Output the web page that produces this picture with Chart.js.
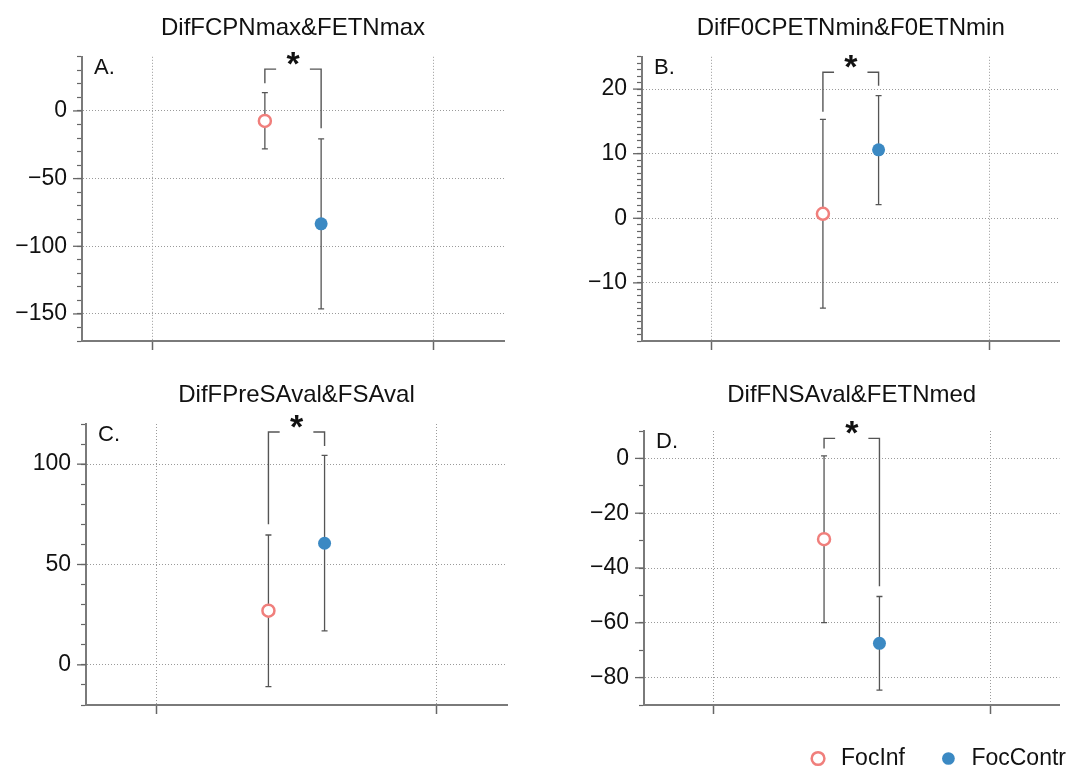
<!DOCTYPE html>
<html>
<head>
<meta charset="utf-8">
<title>Dif panels</title>
<script src="https://cdn.jsdelivr.net/npm/chart.js@4/dist/chart.umd.min.js"></script>
<style>
  html, body { margin: 0; padding: 0; background: #fff; overflow: hidden; }
  #wrap { position: relative; width: 1068px; height: 767px; overflow: hidden; }
  #wrap canvas { position: absolute; }
</style>
</head>
<body>
<div id="wrap">
  <canvas id="chartA"></canvas>
  <canvas id="chartB"></canvas>
  <canvas id="chartC"></canvas>
  <canvas id="chartD"></canvas>
</div>
<script>
// ---- data ----
const groupNames = ['FocInf', 'FocContr'];
const groupX = [1.4, 1.6];
const xTicks = [1, 2];

const panelTitles = ['DifFCPNmax&FETNmax', 'DifF0CPETNmin&F0ETNmin', 'DifFPreSAval&FSAval', 'DifFNSAval&FETNmed'];
const panelLetters = ['A.', 'B.', 'C.', 'D.'];

const focInfMean = [-7.4, 0.7, 27.0, -29.5];
const focInfLow  = [-28.1, -13.9, -10.8, -59.9];
const focInfHigh = [13.6, 15.3, 64.7, 0.9];

const focContrMean = [-83.4, 10.6, 60.6, -67.5];
const focContrLow  = [-146.2, 2.1, 16.9, -84.6];
const focContrHigh = [-20.7, 19.0, 104.4, -50.4];

// significance brackets: top line, lower end of left leg, lower end of right leg
const bracketTop   = [30.9, 22.6, 116, 7.3];
const bracketLeft  = [20.5, 16.5, 70, 3.6];
const bracketRight = [-12.8, 20.5, 109, -46.7];
const bracketGap   = [1.44, 1.56];
const starX = 1.5;

const yMin = [-170, -19, -20, -90];
const yMax = [40, 25, 120, 10];
const yMinorStep = [10, 1, 10, 10];
const yLabelsA = [-150, -100, -50, 0];
const yLabelsB = [-10, 0, 10, 20];
const yLabelsC = [0, 50, 100];
const yLabelsD = [-80, -60, -40, -20, 0];
const yLabels = [yLabelsA, yLabelsB, yLabelsC, yLabelsD];

// ---- styling / layout ----
const FONT = '"Liberation Sans", Arial, Helvetica, sans-serif';
const PINK = '#f07f7c';
const BLUE = '#3b89c3';
const GRID = '#9a9a9a';
const AXIS = '#7a7a7a';
const BAR = '#555555';

const layout = [
  {id: 'chartA', left: 0,   top: 0,   w: 534, h: 370, axisW: 82,  padR: 30, tTop: 14,   tBot: 14,   axisH: 29},
  {id: 'chartB', left: 534, top: 0,   w: 534, h: 370, axisW: 108, padR: 5,  tTop: 14,   tBot: 14,   axisH: 29},
  {id: 'chartC', left: 0,   top: 370, w: 534, h: 370, axisW: 86,  padR: 27, tTop: 10.6, tBot: 14.6, axisH: 35},
  {id: 'chartD', left: 534, top: 370, w: 534, h: 410, axisW: 110, padR: 2,  tTop: 10.6, tBot: 21.6, axisH: 42}
];

function minorTicks(i) {
  const out = [];
  for (let v = yMin[i]; v <= yMax[i] + 1e-9; v += yMinorStep[i]) out.push(Math.round(v * 100) / 100);
  return out;
}

const fmt = v => String(v).replace('-', '\u2212');

const extras = {
  id: 'extras',
  beforeDatasetsDraw(chart) {
    const {ctx, scales: {x, y}} = chart;
    ctx.save();
    ctx.strokeStyle = BAR;
    ctx.lineWidth = 1.3;
    chart.data.datasets.forEach(ds => {
      if (!ds.errLow) return;
      ds.data.forEach((p, k) => {
        const px = x.getPixelForValue(p.x);
        const lo = y.getPixelForValue(ds.errLow[k]);
        const hi = y.getPixelForValue(ds.errHigh[k]);
        ctx.beginPath();
        ctx.moveTo(px, lo); ctx.lineTo(px, hi);
        ctx.moveTo(px - 3, lo); ctx.lineTo(px + 3, lo);
        ctx.moveTo(px - 3, hi); ctx.lineTo(px + 3, hi);
        ctx.stroke();
      });
    });
    ctx.restore();
  },
  afterDraw(chart) {
    const o = chart.options.plugins.extras;
    const {ctx, chartArea, scales: {x, y}} = chart;
    ctx.save();
    // labelled ticks are longer than the minor ones
    ctx.strokeStyle = '#666';
    ctx.lineWidth = 1.3;
    o.majors.forEach(v => {
      const py = y.getPixelForValue(v);
      ctx.beginPath();
      ctx.moveTo(chartArea.left - 9, py);
      ctx.lineTo(chartArea.left, py);
      ctx.stroke();
    });
    ctx.fillStyle = '#111';
    ctx.font = '22px ' + FONT;
    ctx.textAlign = 'left';
    ctx.textBaseline = 'alphabetic';
    ctx.fillText(o.letter, chartArea.left + 12, chartArea.top + 17);
    ctx.font = '600 34px ' + FONT;
    ctx.textAlign = 'center';
    ctx.fillText('*', x.getPixelForValue(o.starX), y.getPixelForValue(o.starY) + 6);
    ctx.restore();
  }
};

layout.forEach((L, i) => {
  const canvas = document.getElementById(L.id);
  canvas.width = L.w;
  canvas.height = L.h;
  canvas.style.left = L.left + 'px';
  canvas.style.top = L.top + 'px';
  const majors = yLabels[i];
  const yTicks = minorTicks(i);
  const isLast = i === 3;

  new Chart(canvas.getContext('2d'), {
    type: 'scatter',
    data: {
      datasets: [
        {
          label: groupNames[0] + (isLast ? '     ' : ''),
          data: [{x: groupX[0], y: focInfMean[i]}],
          errLow: [focInfLow[i]], errHigh: [focInfHigh[i]],
          pointRadius: 6, pointBorderWidth: 2.5,
          pointBorderColor: PINK, pointBackgroundColor: '#fff'
        },
        {
          label: groupNames[1],
          data: [{x: groupX[1], y: focContrMean[i]}],
          errLow: [focContrLow[i]], errHigh: [focContrHigh[i]],
          pointRadius: 6.5, pointBorderWidth: 0,
          pointBorderColor: BLUE, pointBackgroundColor: BLUE
        },
        {
          label: 'bracket',
          data: [{x: groupX[0], y: bracketLeft[i]}, {x: groupX[0], y: bracketTop[i]}, {x: bracketGap[0], y: bracketTop[i]}],
          showLine: true, pointRadius: 0, borderColor: BAR, borderWidth: 1.4
        },
        {
          label: 'bracket',
          data: [{x: bracketGap[1], y: bracketTop[i]}, {x: groupX[1], y: bracketTop[i]}, {x: groupX[1], y: bracketRight[i]}],
          showLine: true, pointRadius: 0, borderColor: BAR, borderWidth: 1.4
        }
      ]
    },
    options: {
      responsive: false,
      animation: false,
      events: [],
      layout: {padding: {left: 0, right: L.padR, top: 0, bottom: 0}},
      plugins: {
        title: {
          display: true, text: panelTitles[i], fullSize: false, color: '#111',
          font: {size: 24, weight: 'normal', family: FONT},
          padding: {top: L.tTop, bottom: L.tBot}
        },
        legend: {
          display: isLast,
          position: 'bottom',
          align: 'end',
          labels: {
            usePointStyle: true, pointStyle: 'circle',
            boxWidth: 23, boxHeight: 9, padding: 0,
            color: '#111', font: {size: 23, family: FONT},
            filter: item => item.datasetIndex < 2
          }
        },
        tooltip: {enabled: false},
        extras: {majors: majors, letter: panelLetters[i], starX: starX, starY: bracketTop[i]}
      },
      scales: {
        x: {
          type: 'linear', min: 0.75, max: 2.25,
          afterBuildTicks: s => { s.ticks = xTicks.map(v => ({value: v})); },
          afterFit: s => { s.height = L.axisH; },
          ticks: {callback: () => ''},
          grid: {color: GRID, lineWidth: 1, tickLength: 9, tickColor: '#666', tickWidth: 1.5},
          border: {color: AXIS, width: 2, dash: [1, 2]}
        },
        y: {
          type: 'linear', min: yMin[i], max: yMax[i],
          afterBuildTicks: s => { s.ticks = yTicks.map(v => ({value: v})); },
          afterFit: s => { s.width = L.axisW; },
          ticks: {
            autoSkip: false, padding: 10, color: '#111',
            font: {size: 23, family: FONT},
            callback: v => majors.includes(v) ? fmt(v) : ''
          },
          grid: {
            color: c => (c.tick && majors.includes(c.tick.value)) ? GRID : 'rgba(0,0,0,0)',
            lineWidth: 1, tickLength: 5, tickColor: '#666', tickWidth: 1.2
          },
          border: {color: AXIS, width: 2, dash: [1, 2]}
        }
      }
    },
    plugins: [extras]
  });
});
</script>
</body>
</html>
